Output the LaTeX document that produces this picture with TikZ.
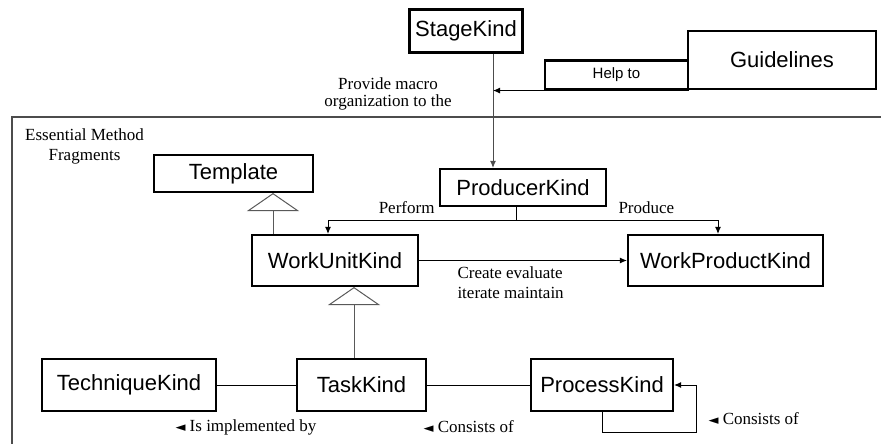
\documentclass[tikz,border=0pt]{standalone}
\usepackage{fontspec}
\setmainfont{Liberation Serif}
\setsansfont{Liberation Sans}
\newfontfamily\symfont{DejaVu Sans}
\usetikzlibrary{arrows.meta}

\begin{document}
\begin{tikzpicture}[x=1pt, y=-1pt, line width=1pt,
    kind/.style = {draw, line width=2.1pt, inner sep=0pt, font=\sffamily\fontsize{22}{24}\selectfont},
    txt/.style = {inner sep=0pt, font=\fontsize{17}{19}\selectfont},
    arr/.style = {-{Latex[length=7pt,width=6pt]}},
    inherit/.style = {draw=black!65, -{Triangle[open,length=18pt,width=52pt]}}]
    \useasboundingbox (0,0) rectangle (881,444);
    % frame of the fragments
    \draw[black!70, line width=1.4pt] (882,117) -- (12,117) -- (12,445);
    %% Kinds
    \node[kind, minimum width=113pt, minimum height=43pt] (stage) at (466,31) {StageKind};
    \node[draw, line width=2.1pt, minimum width=143pt, minimum height=29pt, inner sep=0pt,
          font=\sffamily\fontsize{15}{17}\selectfont] (help) at (616.5,75) {Help to};
    \node[kind, minimum width=188pt, minimum height=58pt] (guide) at (782,60) {Guidelines};
    \node[kind, minimum width=166pt, minimum height=37pt] (producer) at (523,187.5) {ProducerKind};
    \node[kind, minimum width=159pt, minimum height=37pt] (template) at (233.5,173.5) {Template};
    \node[kind, minimum width=166pt, minimum height=51pt] (workunit) at (335,260.5) {WorkUnitKind};
    \node[kind, minimum width=195pt, minimum height=51pt] (workproduct) at (725.5,260.5) {WorkProductKind};
    \node[kind, minimum width=174pt, minimum height=52pt] (technique) at (129,385) {TechniqueKind};
    \node[kind, minimum width=129pt, minimum height=52pt] (task) at (361.5,385) {TaskKind};
    \node[kind, minimum width=142pt, minimum height=52pt] (process) at (602,385) {ProcessKind};
    %% Texts
    \node[txt, align=center] (provide) at (388,94) {Provide macro\\[-2pt]organization to the};
    \node[txt, align=center] (essential) at (84.5,146) {Essential Method\\[1pt]Fragments};
    \node[txt, anchor=east] (perform) at (435,208) {Perform};
    \node[txt, anchor=west] (produce) at (618,208) {Produce};
    \node[txt, align=left, anchor=north west] (create) at (457,266) {Create evaluate\\[1pt]iterate maintain};
    \node[txt, anchor=west] (implemented) at (175,427) {{\symfont\fontsize{13}{13}\selectfont ◄}\ Is implemented by};
    \node[txt, anchor=west] (consists) at (423,427) {{\symfont\fontsize{13}{13}\selectfont ◄}\ Consists of};
    \node[txt, anchor=west] (consists2) at (708,419) {{\symfont\fontsize{13}{13}\selectfont ◄}\ Consists of};
    %% Arrows
    \coordinate (s1) at (493,0);
    \coordinate (split) at (516,220);
    \coordinate (g1) at (273,0);
    \coordinate (g2) at (354,0);
    \coordinate (loop) at (696,432);
    \draw[arr, black!70] (stage.south -| s1) -- (producer.north -| s1);
    \draw[arr] (help.south west) -- (help.south west -| s1);
    \draw (producer.south -| split) -- (split);
    \draw[arr] (split) -| ([xshift=-7pt]workunit.north);
    \draw[arr] (split) -| ([xshift=-7.5pt]workproduct.north);
    \draw[arr] (workunit) -- (workproduct);
    \draw[inherit] (workunit.north -| g1) -- (template.south -| g1);
    \draw[inherit] (task.north -| g2) -- (workunit.south -| g2);
    \draw (technique) -- (task);
    \draw (task) -- (process);
    \draw[arr] (process.south) |- (loop) |- (process.east);
\end{tikzpicture}
\end{document}
